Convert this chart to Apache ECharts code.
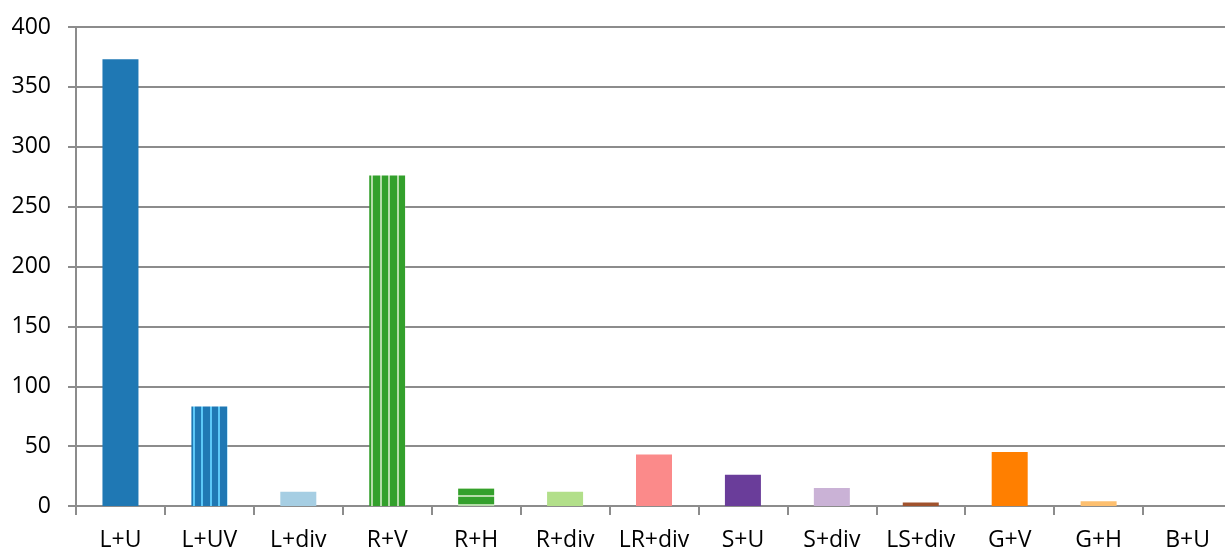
<!DOCTYPE html>
<html>
<head>
<meta charset="utf-8">
<script src="https://cdn.jsdelivr.net/npm/echarts@6/dist/echarts.min.js"></script>
<style>
html,body{margin:0;padding:0;background:#fff;overflow:hidden;width:1225px;height:552px;}
#chart{width:1232px;height:552px;}
</style>
</head>
<body>
<div id="chart"></div>
<script>
const categories = ['L+U','L+UV','L+div','R+V','R+H','R+div','LR+div','S+U','S+div','LS+div','G+V','G+H','B+U'];
const values = [373, 83, 12, 276, 15, 12, 43, 26, 15, 3, 45, 4, 0];
const yTicks = [0, 50, 100, 150, 200, 250, 300, 350, 400];

function stripes(base, stripe, vertical) {
  const c = document.createElement('canvas');
  const p = 17;
  c.width = vertical ? p : 4;
  c.height = vertical ? 4 : p;
  const g = c.getContext('2d');
  g.fillStyle = base;
  g.fillRect(0, 0, c.width, c.height);
  g.fillStyle = stripe;
  if (vertical) {
    g.fillRect(6, 0, 2, c.height);
    g.fillRect(14, 0, 2, c.height);
  } else {
    g.fillRect(0, 2, c.width, 2);
    g.fillRect(0, 11, c.width, 2);
  }
  return { image: c, repeat: 'repeat' };
}

const fills = [
  '#1f78b4',
  stripes('#1f78b4', '#5cc8f8', true),
  '#a6cee3',
  stripes('#33a02c', '#b5dcaa', true),
  stripes('#33a02c', '#b5dcaa', false),
  '#b2df8a',
  '#fb8a8a',
  '#6a3d9a',
  '#cab2d6',
  '#a0522d',
  '#ff7f00',
  '#fdbf6f',
  '#cccccc'
];

const chart = echarts.init(document.getElementById('chart'), null, { renderer: 'canvas' });
const axisColor = '#8c8c8c';
const fontFamily = '"Open Sans", "Noto Sans", sans-serif';

chart.setOption({
  animation: false,
  backgroundColor: '#ffffff',
  grid: { left: 76, right: 0, top: 27, bottom: 46, containLabel: false },
  xAxis: {
    type: 'category',
    data: categories,
    axisLine: { show: true, lineStyle: { color: axisColor, width: 2 } },
    axisTick: { show: true, alignWithLabel: false, length: 9, lineStyle: { color: axisColor, width: 2 } },
    axisLabel: { color: '#000', fontSize: 23, fontFamily: fontFamily, margin: 23, interval: 0 }
  },
  yAxis: {
    type: 'value',
    min: yTicks[0],
    max: yTicks[yTicks.length - 1],
    interval: yTicks[1] - yTicks[0],
    axisLine: { show: true, lineStyle: { color: axisColor, width: 2 } },
    axisTick: { show: true, length: 8, lineStyle: { color: axisColor, width: 2 } },
    axisLabel: { color: '#000', fontSize: 23, fontFamily: fontFamily, margin: 25 },
    splitLine: { show: true, lineStyle: { color: axisColor, width: 2 } }
  },
  series: [{
    type: 'bar',
    barWidth: 36,
    data: values.map((v, i) => ({ value: v, itemStyle: { color: fills[i] } }))
  }]
});
</script>
</body>
</html>
